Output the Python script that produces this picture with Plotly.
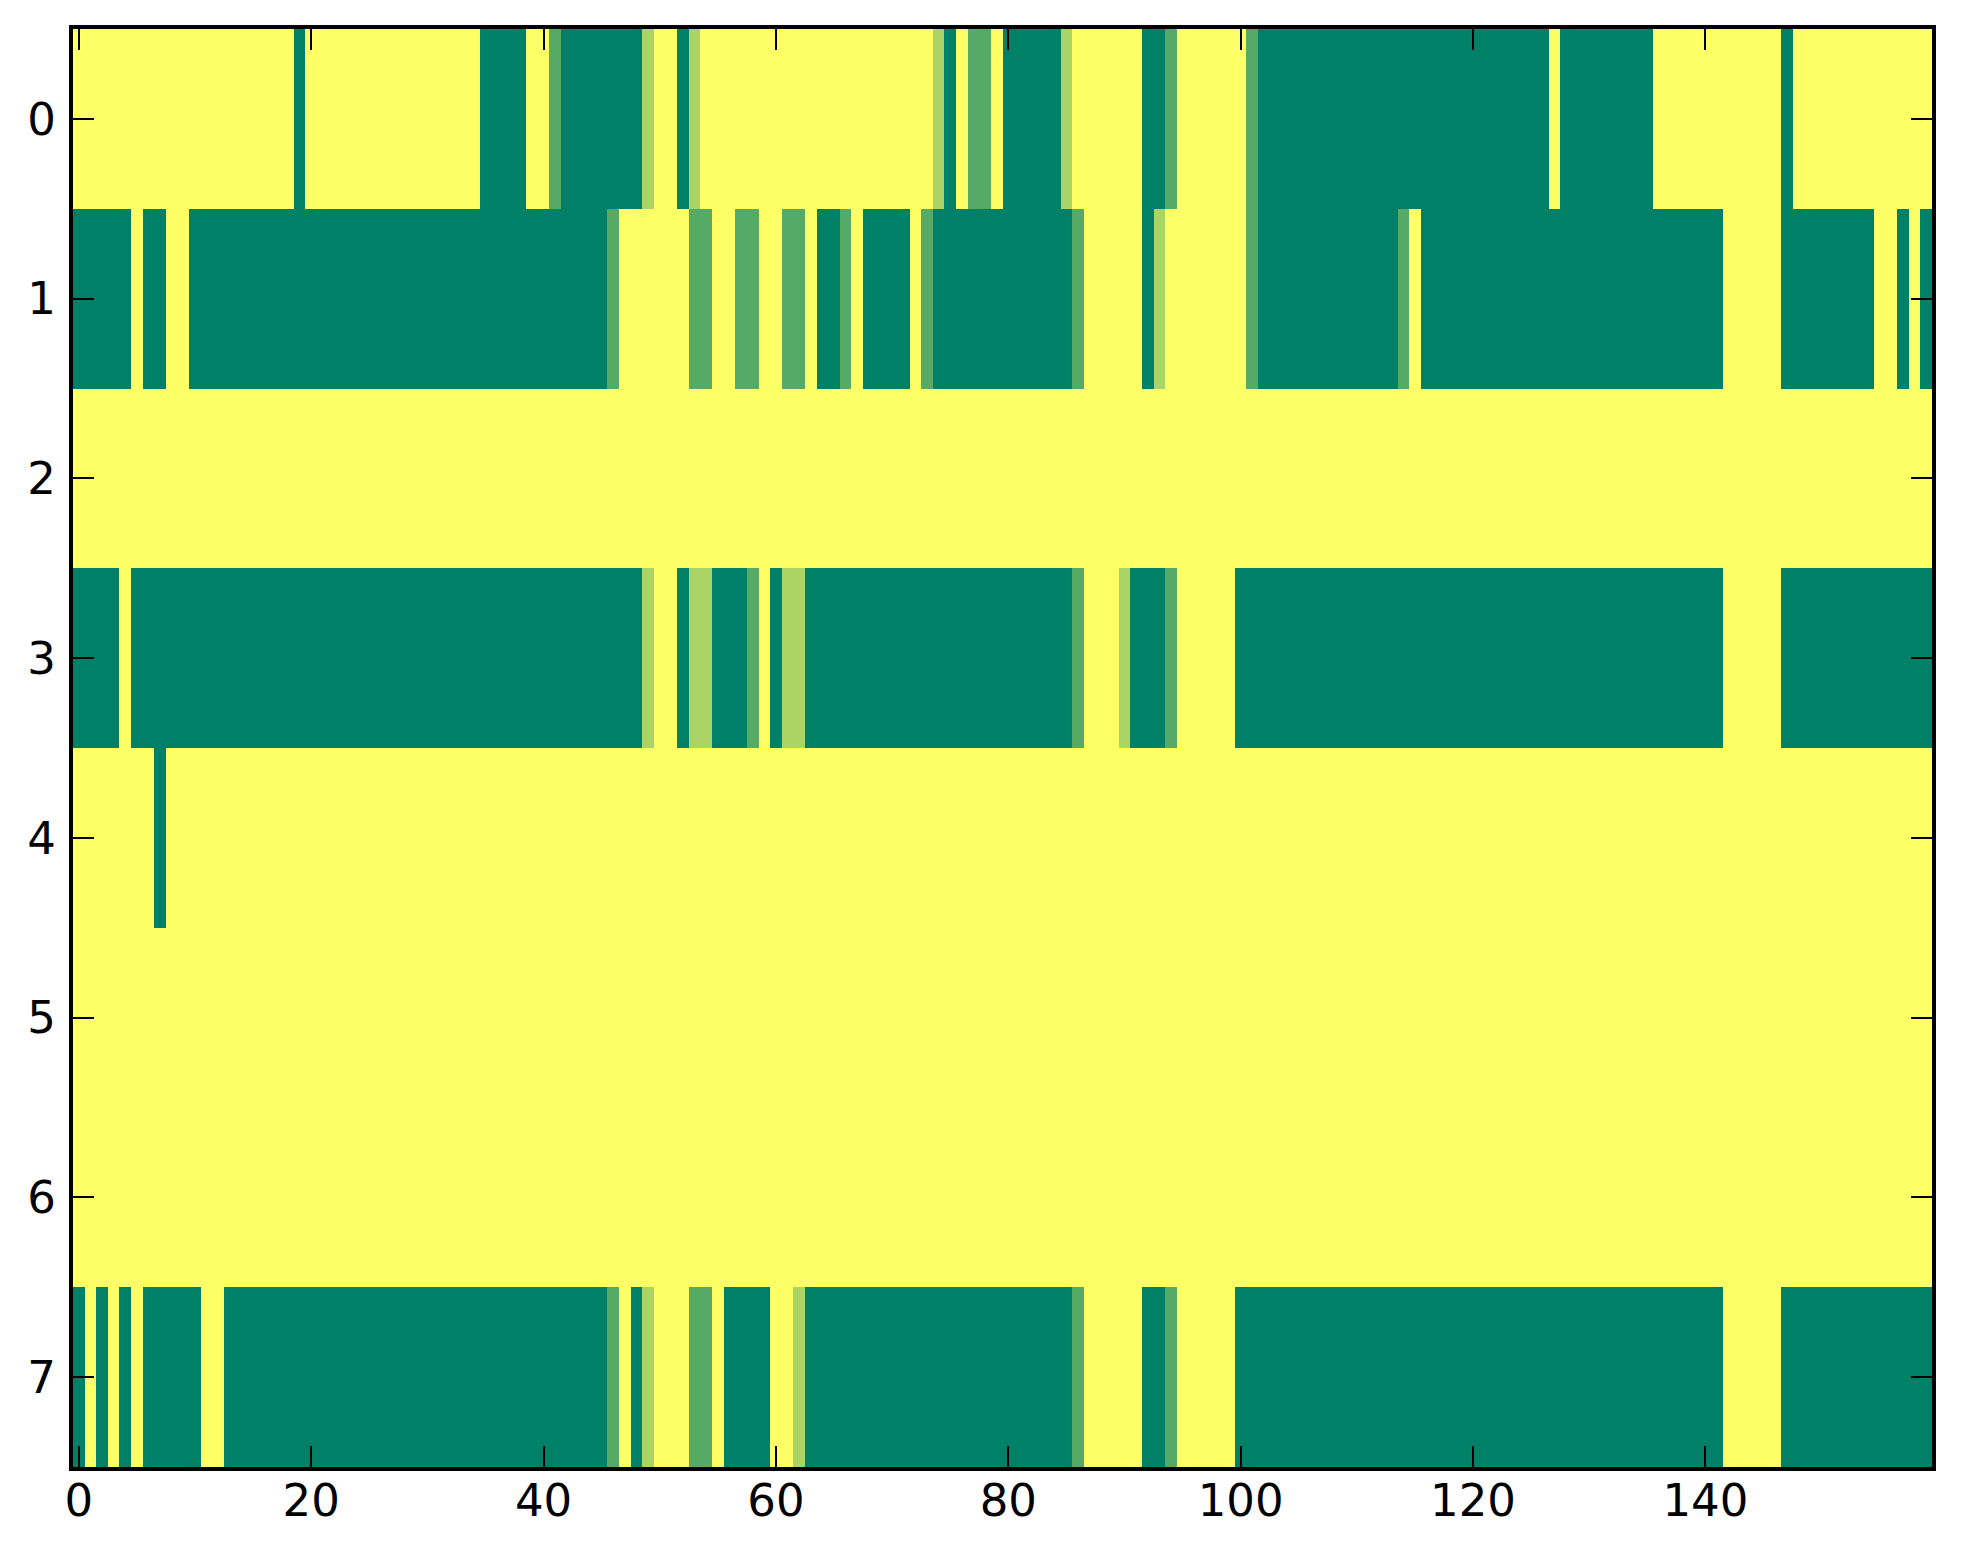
import plotly.graph_objects as go

# values in thirds: 0 = dark green ... 3 = yellow (summer colormap)
row_0 = [3, 3, 3, 3, 3, 3, 3, 3, 3, 3, 3, 3, 3, 3, 3, 3, 3, 3, 3, 0,
         3, 3, 3, 3, 3, 3, 3, 3, 3, 3, 3, 3, 3, 3, 3, 0, 0, 0, 0, 3,
         3, 1, 0, 0, 0, 0, 0, 0, 0, 2, 3, 3, 0, 2, 3, 3, 3, 3, 3, 3,
         3, 3, 3, 3, 3, 3, 3, 3, 3, 3, 3, 3, 3, 3, 2, 0, 3, 1, 1, 3,
         0, 0, 0, 0, 0, 2, 3, 3, 3, 3, 3, 3, 0, 0, 1, 3, 3, 3, 3, 3,
         3, 1, 0, 0, 0, 0, 0, 0, 0, 0, 0, 0, 0, 0, 0, 0, 0, 0, 0, 0,
         0, 0, 0, 0, 0, 0, 0, 3, 0, 0, 0, 0, 0, 0, 0, 0, 3, 3, 3, 3,
         3, 3, 3, 3, 3, 3, 3, 0, 3, 3, 3, 3, 3, 3, 3, 3, 3, 3, 3, 3]

row_1 = [0, 0, 0, 0, 0, 3, 0, 0, 3, 3, 0, 0, 0, 0, 0, 0, 0, 0, 0, 0,
         0, 0, 0, 0, 0, 0, 0, 0, 0, 0, 0, 0, 0, 0, 0, 0, 0, 0, 0, 0,
         0, 0, 0, 0, 0, 0, 1, 3, 3, 3, 3, 3, 3, 1, 1, 3, 3, 1, 1, 3,
         3, 1, 1, 3, 0, 0, 1, 3, 0, 0, 0, 0, 3, 1, 0, 0, 0, 0, 0, 0,
         0, 0, 0, 0, 0, 0, 1, 3, 3, 3, 3, 3, 0, 2, 3, 3, 3, 3, 3, 3,
         3, 1, 0, 0, 0, 0, 0, 0, 0, 0, 0, 0, 0, 0, 1, 3, 0, 0, 0, 0,
         0, 0, 0, 0, 0, 0, 0, 0, 0, 0, 0, 0, 0, 0, 0, 0, 0, 0, 0, 0,
         0, 0, 3, 3, 3, 3, 3, 0, 0, 0, 0, 0, 0, 0, 0, 3, 3, 0, 3, 0]

row_2 = [3] * 160

row_3 = [0, 0, 0, 0, 3, 0, 0, 0, 0, 0, 0, 0, 0, 0, 0, 0, 0, 0, 0, 0,
         0, 0, 0, 0, 0, 0, 0, 0, 0, 0, 0, 0, 0, 0, 0, 0, 0, 0, 0, 0,
         0, 0, 0, 0, 0, 0, 0, 0, 0, 2, 3, 3, 0, 2, 2, 0, 0, 0, 1, 3,
         0, 2, 2, 0, 0, 0, 0, 0, 0, 0, 0, 0, 0, 0, 0, 0, 0, 0, 0, 0,
         0, 0, 0, 0, 0, 0, 1, 3, 3, 3, 2, 0, 0, 0, 1, 3, 3, 3, 3, 3,
         0, 0, 0, 0, 0, 0, 0, 0, 0, 0, 0, 0, 0, 0, 0, 0, 0, 0, 0, 0,
         0, 0, 0, 0, 0, 0, 0, 0, 0, 0, 0, 0, 0, 0, 0, 0, 0, 0, 0, 0,
         0, 0, 3, 3, 3, 3, 3, 0, 0, 0, 0, 0, 0, 0, 0, 0, 0, 0, 0, 0]

row_4 = [3, 3, 3, 3, 3, 3, 3, 0] + [3] * 152

row_5 = [3] * 160

row_6 = [3] * 160

row_7 = [0, 3, 0, 3, 0, 3, 0, 0, 0, 0, 0, 3, 3, 0, 0, 0, 0, 0, 0, 0,
         0, 0, 0, 0, 0, 0, 0, 0, 0, 0, 0, 0, 0, 0, 0, 0, 0, 0, 0, 0,
         0, 0, 0, 0, 0, 0, 1, 3, 0, 2, 3, 3, 3, 1, 1, 3, 0, 0, 0, 0,
         3, 3, 2, 0, 0, 0, 0, 0, 0, 0, 0, 0, 0, 0, 0, 0, 0, 0, 0, 0,
         0, 0, 0, 0, 0, 0, 1, 3, 3, 3, 3, 3, 0, 0, 1, 3, 3, 3, 3, 3,
         0, 0, 0, 0, 0, 0, 0, 0, 0, 0, 0, 0, 0, 0, 0, 0, 0, 0, 0, 0,
         0, 0, 0, 0, 0, 0, 0, 0, 0, 0, 0, 0, 0, 0, 0, 0, 0, 0, 0, 0,
         0, 0, 3, 3, 3, 3, 3, 0, 0, 0, 0, 0, 0, 0, 0, 0, 0, 0, 0, 0]

rows = [row_0, row_1, row_2, row_3, row_4, row_5, row_6, row_7]
columns = list(range(160))
row_ids = list(range(8))
x_ticks = [0, 20, 40, 60, 80, 100, 120, 140]

for r in rows:
    assert len(r) == 160, len(r)

fig = go.Figure(go.Heatmap(z=rows,
                           x=columns,
                           y=row_ids,
                           zmin=0, zmax=3,
                           colorscale=[[0, '#008066'], [1, '#ffff66']],
                           showscale=False))

# page body keeps its 8px margin, so the figure is 16px smaller than the window
fig.update_layout(
    width=1947,
    height=1548,
    margin=dict(l=65, r=23, t=21, b=89),
    paper_bgcolor='white',
    plot_bgcolor='white',
    font=dict(family='DejaVu Sans', size=45, color='black'),
    xaxis=dict(
        range=[-0.5, 159.5],
        tickvals=x_ticks,
        showgrid=False,
        zeroline=False,
        showline=True,
        linewidth=4,
        linecolor='black',
        mirror='ticks',
        ticks='inside',
        ticklen=21,
        tickwidth=2,
        tickcolor='black',
        ticklabelstandoff=-9,
    ),
    yaxis=dict(
        range=[7.5, -0.5],
        tickvals=row_ids,
        showgrid=False,
        zeroline=False,
        showline=True,
        linewidth=4,
        linecolor='black',
        mirror='ticks',
        ticks='inside',
        ticklen=21,
        tickwidth=2,
        tickcolor='black',
        ticklabelstandoff=4,
    ),
)

fig.write_html("out.html")
